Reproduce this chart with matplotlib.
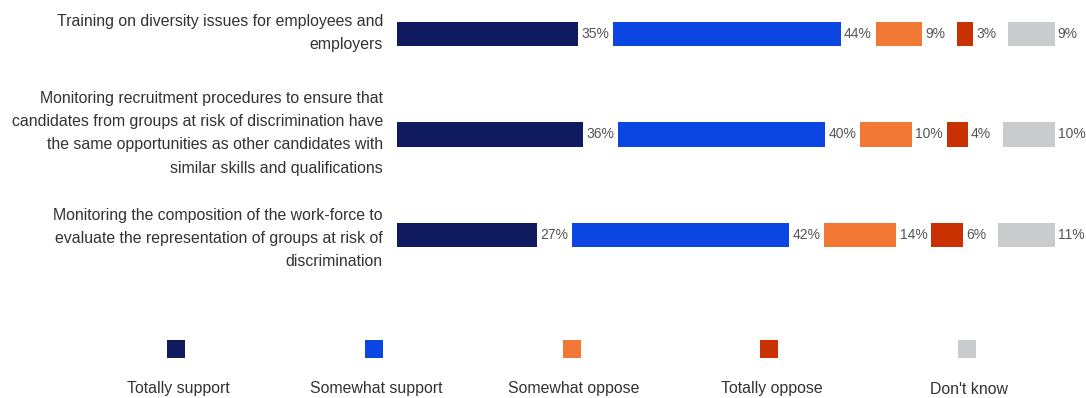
import numpy as np
import matplotlib
matplotlib.use("Agg")
import matplotlib.pyplot as plt
from matplotlib.patches import Rectangle

# ---- data -------------------------------------------------------------
categories = [
    "Training on diversity issues for employees and\nemployers",
    "Monitoring recruitment procedures to ensure that\n"
    "candidates from groups at risk of discrimination have\n"
    "the same opportunities as other candidates with\n"
    "similar skills and qualifications",
    "Monitoring the composition of the work-force to\n"
    "evaluate the representation of groups at risk of\n"
    "discrimination",
]
series_names = ["Totally support", "Somewhat support", "Somewhat oppose",
                "Totally oppose", "Don't know"]
totally_support = [35, 36, 27]
somewhat_support = [44, 40, 42]
somewhat_oppose = [9, 10, 14]
totally_oppose = [3, 4, 6]
dont_know = [9, 10, 11]

series_values = [totally_support, somewhat_support, somewhat_oppose,
                 totally_oppose, dont_know]
colors = ["#101A5E", "#0B46E2", "#F27935", "#C93103", "#C9CBCD"]

# ---- styling ----------------------------------------------------------
FONT = ["Liberation Sans", "DejaVu Sans"]
W, H = 1086, 398
GAP = 6.8          # horizontal space between segments, in percentage units
BAR_H = 0.239

fig = plt.figure(figsize=(W / 100, H / 100), dpi=100)
ax = fig.add_axes([397 / W, (H - 270) / H, 672 / W, 270 / H])
ax.set_xlim(0, 130)
ax.set_ylim(2.348, -0.338)
ax.axis("off")

rows = np.arange(len(categories))
left = np.zeros(len(categories))
for k, (vals, col) in enumerate(zip(series_values, colors)):
    vals = np.asarray(vals, dtype=float)
    ax.barh(rows, vals, left=left, height=BAR_H, color=col, edgecolor="none")
    for r, v, l in zip(rows, vals, left):
        ax.annotate(f"{int(v)}%", xy=(l + v, r), xytext=(2.4, 0),
                    textcoords="offset points", ha="left", va="center",
                    fontsize=10, family=FONT, color="#555555",
                    annotation_clip=False)
    left = left + vals + GAP

label_shift = [0.5, 1.0, -2.5]   # fine vertical nudge of each label block (pt)
for r, label, dy in zip(rows, categories, label_shift):
    ax.annotate(label, xy=(0, r), xytext=(-10.1, dy), textcoords="offset points",
                ha="right", va="center", multialignment="right",
                fontsize=11.4, family=FONT, color="#333333",
                linespacing=1.7, annotation_clip=False)

# ---- legend: swatch above its label -----------------------------------
lax = fig.add_axes([0, 0, 1, 1], zorder=-1)
lax.set_xlim(0, W)
lax.set_ylim(H, 0)
lax.axis("off")
for k, (name, col) in enumerate(zip(series_names, colors)):
    cx = 176 + 197.8 * k
    lax.add_patch(Rectangle((cx - 9, 340), 18, 18, color=col, lw=0))
    lax.text(cx + 2, 389, name, ha="center", va="center",
             fontsize=11.4, family=FONT, color="#333333")

fig.savefig("out.png", dpi=100)
